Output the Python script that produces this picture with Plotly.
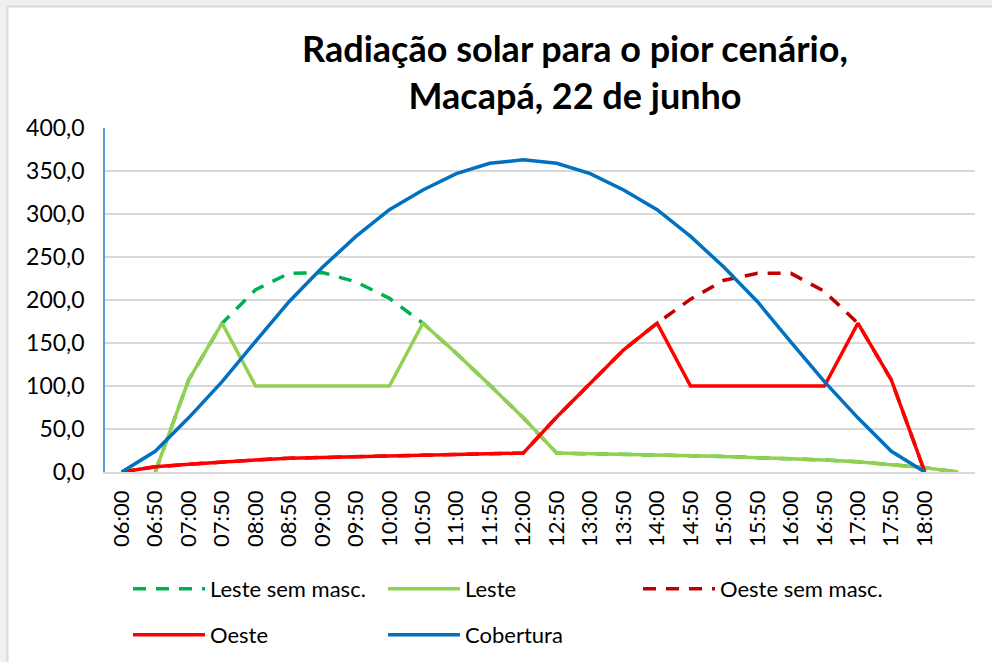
import plotly.graph_objects as go

# Time labels along the horizontal axis (the last position has no label)
horarios = ["06:00", "06:50", "07:00", "07:50", "08:00", "08:50", "09:00", "09:50",
            "10:00", "10:50", "11:00", "11:50", "12:00", "12:50", "13:00", "13:50",
            "14:00", "14:50", "15:00", "15:50", "16:00", "16:50", "17:00", "17:50",
            "18:00", ""]

# Radiation series (W/m²)
leste_sem_masc = [None, 0, 107, 173, 212, 231, 232, 221, 202, 173, 138, 101, 63,
                  22, 21.5, 21, 20, 19, 18, 17, 16, 14, 12, 9, 5, 0]
leste = [None, 0, 107, 173, 100, 100, 100, 100, 100, 173, 138, 101, 63,
         22, 21.5, 21, 20, 19, 18, 17, 16, 14, 12, 9, 5, 0]
oeste_sem_masc = [0, 6, 9, 12, 14, 16, 17, 18, 19, 20, 21, 21.5, 22,
                  64, 103, 142, 173, 201, 223, 231, 231, 210, 173, 107, 0, None]
oeste = [0, 6, 9, 12, 14, 16, 17, 18, 19, 20, 21, 21.5, 22,
         64, 103, 142, 173, 100, 100, 100, 100, 100, 173, 107, 0, None]
cobertura = [0, 24, 63, 105, 152, 198, 238, 274, 305, 328, 347, 359, 363,
             359, 347, 328, 305, 274, 238, 198, 151, 105, 63, 24, 0, None]

x = list(range(len(horarios)))
FONT = "Lato, 'Open Sans', sans-serif"

# Layout geometry in pixels
W, H = 992, 662
L, R, T, B = 105, 17, 128, 190
PW, PH = W - L - R, H - T - B


def px_x(p):
    return (p - L) / PW


def px_y(p):
    return (H - B - p) / PH


fig = go.Figure()

series = [
    ("Leste sem masc.", leste_sem_masc, "#00B050", "13px,10px", "legend"),
    ("Leste", leste, "#92D050", "solid", "legend"),
    ("Oeste sem masc.", oeste_sem_masc, "#C00000", "13px,10px", "legend"),
    ("Oeste", oeste, "#FF0000", "solid", "legend2"),
    ("Cobertura", cobertura, "#0070C0", "solid", "legend2"),
]
for nome, valores, cor, tracejado, leg in series:
    fig.add_trace(go.Scatter(
        x=x, y=valores, name=nome, mode="lines",
        line=dict(color=cor, width=3.5, dash=tracejado),
        legend=leg, connectgaps=False,
    ))

legend_common = dict(
    orientation="h", xanchor="left", yanchor="middle",
    font=dict(family=FONT, size=22, color="#000000"),
    bgcolor="rgba(0,0,0,0)", entrywidth=168, entrywidthmode="pixels",
    itemwidth=72, traceorder="normal",
)

fig.update_layout(
    width=W, height=H,
    margin=dict(l=L, r=R, t=T, b=B, autoexpand=False),
    paper_bgcolor="white", plot_bgcolor="white",
    separators=",.",
    title=dict(
        text="<b>Radiação solar para o pior cenário,<br>Macapá, 22 de junho</b>",
        font=dict(family=FONT, size=36, color="#000000"),
        x=575 / W, xanchor="center", xref="container",
        y=1 - 62 / H, yanchor="middle", yref="container",
    ),
    xaxis=dict(
        range=[-0.5, len(horarios) - 0.5],
        tickvals=x[:-1], ticktext=horarios[:-1],
        tickangle=-90, showgrid=False,
        showline=True, linecolor="#D9D9D9", linewidth=1.5,
        ticks="", ticklabelstandoff=8,
        tickfont=dict(family=FONT, size=22, color="#000000"),
        zeroline=False, automargin=False,
    ),
    yaxis=dict(
        range=[0, 400], dtick=50, tickformat=".1f",
        showgrid=True, gridcolor="#D9D9D9", gridwidth=1.5,
        showline=True, linecolor="#5B9BD5", linewidth=1.5,
        ticks="", ticklabelstandoff=14, zeroline=False,
        tickfont=dict(family=FONT, size=23, color="#000000"),
        automargin=False,
    ),
    legend=dict(x=px_x(128), y=px_y(589), **legend_common),
    legend2=dict(x=px_x(128), y=px_y(635), **legend_common),
    showlegend=True,
    shapes=[
        # light gray strips along the top and left edges
        dict(type="rect", xref="paper", yref="paper", layer="above",
             x0=px_x(0), x1=px_x(7), y0=px_y(H), y1=px_y(0),
             fillcolor="#F0F0F0", line=dict(width=0)),
        dict(type="rect", xref="paper", yref="paper", layer="above",
             x0=px_x(0), x1=px_x(W), y0=px_y(6), y1=px_y(0),
             fillcolor="#F0F0F0", line=dict(width=0)),
        dict(type="line", xref="paper", yref="paper", layer="above",
             x0=px_x(7.5), x1=px_x(7.5), y0=px_y(6), y1=px_y(H),
             line=dict(color="#D9D9D9", width=2)),
        dict(type="line", xref="paper", yref="paper", layer="above",
             x0=px_x(7), x1=px_x(W), y0=px_y(6.5), y1=px_y(6.5),
             line=dict(color="#D9D9D9", width=2)),
    ],
)

fig.write_html("out.html")
